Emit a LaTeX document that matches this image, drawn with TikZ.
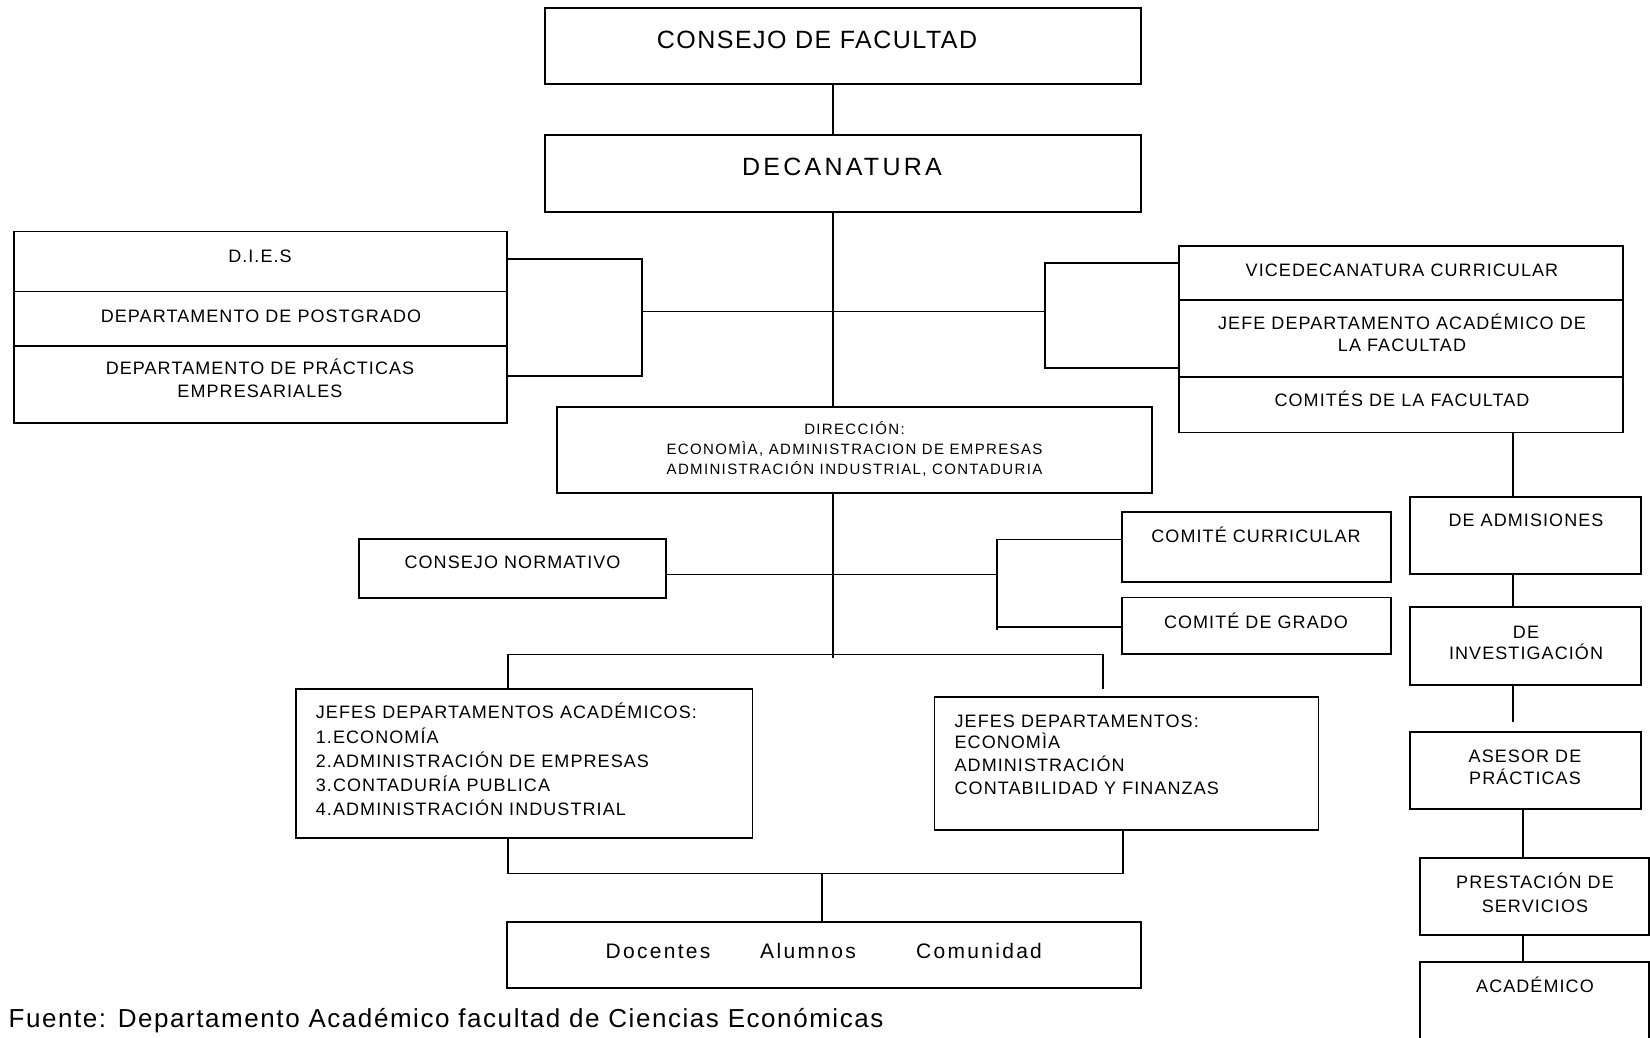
\documentclass[tikz,border=0pt]{standalone}
\usepackage{fontspec}
\setmainfont{Liberation Sans}
\newfontfamily\fsA{Liberation Sans}[LetterSpace=6]
\newfontfamily\fsB{Liberation Sans}[LetterSpace=13]
\newfontfamily\fsD{Liberation Sans}[LetterSpace=9]
\newfontfamily\fsE{Liberation Sans}[LetterSpace=11]
\tikzset{
  box/.style={draw, line width=1.8pt, inner sep=0pt, outer sep=0pt, anchor=north west},
  conn/.style={line width=1.8pt},
  tbig/.style={font=\fsA\fontsize{25}{30}\selectfont, inner sep=0pt, text height=17.9pt, text depth=0pt},
  tdec/.style={font=\fsB\fontsize{25}{30}\selectfont, inner sep=0pt, text height=17.9pt, text depth=0pt},
  tsmall/.style={font=\fsA\fontsize{18}{22}\selectfont, inner sep=0pt, text height=12.9pt, text depth=0pt},
  tdir/.style={font=\fsD\fontsize{15}{18}\selectfont, inner sep=0pt, text height=10.7pt, text depth=0pt},
  tdoc/.style={font=\fsE\fontsize{21}{25}\selectfont, inner sep=0pt, text height=15pt, text depth=0pt},
  tsrc/.style={font=\fsA\fontsize{26}{31}\selectfont, inner sep=0pt, text height=18.6pt, text depth=0pt, anchor=west},
}
\newcommand\bx[5]{\node[box, minimum width={(#4-#2)*1pt}, minimum height={(#5-#3)*1pt}] (#1) at (#2,#3) {};}
\begin{document}
\begin{tikzpicture}[x=1pt,y=-1pt]
\useasboundingbox (0,0) rectangle (1650,1038);
% boxes
\bx{cf}{545}{8}{1141}{84}
\bx{dec}{545}{135}{1141}{212}
\bx{lgA}{14}{231.5}{507}{291.5}
\bx{lgB}{14}{291.5}{507}{346}
\bx{lgC}{14}{346}{507}{423}
\bx{rgA}{1178.6}{246}{1622.6}{300}
\bx{rgB}{1178.6}{300}{1622.6}{376.7}
\bx{rgC}{1178.6}{376.7}{1622.6}{432.5}
\bx{dir}{557}{407}{1152}{493}
\bx{cn}{359}{539}{666}{598}
\bx{cc}{1122}{512}{1391}{582}
\bx{cg}{1122}{597.5}{1391}{654}
\bx{adm}{1410}{497}{1641}{574}
\bx{inv}{1410}{607}{1641}{685}
\bx{ase}{1410}{732}{1641}{809}
\bx{pre}{1420}{858}{1649}{935}
\bx{aca}{1420}{962}{1649}{1060}
\bx{ja}{295.7}{689}{752.4}{837.6}
\bx{jd}{934.4}{696.6}{1318.5}{830.3}
\bx{doc}{507}{922}{1141}{988}
% coordinates
\coordinate (vx) at (833,0);
\coordinate (cx1) at (1513,0);
\coordinate (cx2) at (1523,0);
\coordinate (jl) at (642,311.5);
\coordinate (jr) at (1045,311.5);
\coordinate (vend) at (833,658);
\coordinate (g1) at (1513,722);
\coordinate (g2) at (1103,689);
\coordinate (jn) at (997,574.5);
% connectors
\draw[conn] (cf.south -| vx) -- (dec.north -| vx);
\draw[conn] (dec.south -| vx) -- (dir.north -| vx);
\draw[conn] (dir.south -| vx) -- (vend);
\draw[conn] (lgA.east |- 0,259) -- (642,259) -- (642,376) -- (lgC.east |- 0,376);
\draw[conn] (jl) -- (jr);
\draw[conn] (rgA.west |- 0,263) -- (1045,263) -- (1045,368) -- (rgB.west |- 0,368);
\draw[conn] (rgC.south -| cx1) -- (adm.north -| cx1);
\draw[conn] (adm.south -| cx1) -- (inv.north -| cx1);
\draw[conn] (inv.south -| cx1) -- (g1);
\draw[conn] (ase.south -| cx2) -- (pre.north -| cx2);
\draw[conn] (pre.south -| cx2) -- (aca.north -| cx2);
\draw[conn] (cn.east |- 0,574.5) -- (jn);
\draw[conn] (cc.west |- 0,539.5) -- (997,539.5) -- (997,630);
\draw[conn] (997,627) -- (cg.west |- 0,627);
\draw[conn] (ja.north -| 508,0) -- (508,654.5) -- (1103,654.5) -- (g2);
\draw[conn] (ja.south -| 508,0) -- (508,873.4) -- (1122.8,873.4) -- (jd.south -| 1122.8,0);
\draw[conn] (822,873.4) -- (doc.north -| 822,0);
% texts
\node[tbig] (tcf) at (817,40) {CONSEJO DE FACULTAD};
\node[tdec] (tdec) at (842,167) {DECANATURA};
\node[tsmall] (tlA) at (260,256) {D.I.E.S};
\node[tsmall] (tlB) at (261,316) {DEPARTAMENTO DE POSTGRADO};
\node[tsmall] (tlC1) at (260,368) {DEPARTAMENTO DE PRÁCTICAS};
\node[tsmall] (tlC2) at (260,391.5) {EMPRESARIALES};
\node[tsmall] (trA) at (1402,270.5) {VICEDECANATURA CURRICULAR};
\node[tsmall] (trB1) at (1402,323) {JEFE DEPARTAMENTO ACADÉMICO DE};
\node[tsmall] (trB2) at (1402,345) {LA FACULTAD};
\node[tsmall] (trC) at (1402,400) {COMITÉS DE LA FACULTAD};
\node[tdir] (td1) at (854.5,429) {DIRECCIÓN:};
\node[tdir] (td2) at (854.5,449) {ECONOMÌA, ADMINISTRACION DE EMPRESAS};
\node[tdir] (td3) at (854.5,469) {ADMINISTRACIÓN INDUSTRIAL, CONTADURIA};
\node[tsmall] (tcn) at (512.5,562) {CONSEJO NORMATIVO};
\node[tsmall] (tcc) at (1256,536) {COMITÉ CURRICULAR};
\node[tsmall] (tcg) at (1256,622) {COMITÉ DE GRADO};
\node[tsmall] (tadm) at (1526,520) {DE ADMISIONES};
\node[tsmall] (tinv1) at (1526,632) {DE};
\node[tsmall] (tinv2) at (1526,653) {INVESTIGACIÓN};
\node[tsmall] (tase1) at (1525,756) {ASESOR DE};
\node[tsmall] (tase2) at (1525,778) {PRÁCTICAS};
\node[tsmall] (tpre1) at (1535,882) {PRESTACIÓN DE};
\node[tsmall] (tpre2) at (1535,906) {SERVICIOS};
\node[tsmall] (taca) at (1535,986) {ACADÉMICO};
\node[tsmall, anchor=west] (tja1) at (315.7,712.4) {JEFES DEPARTAMENTOS ACADÉMICOS:};
\node[tsmall, anchor=west] (tja2) at (315.7,736.6) {1.ECONOMÍA};
\node[tsmall, anchor=west] (tja3) at (315.7,760.8) {2.ADMINISTRACIÓN DE EMPRESAS};
\node[tsmall, anchor=west] (tja4) at (315.7,785) {3.CONTADURÍA PUBLICA};
\node[tsmall, anchor=west] (tja5) at (315.7,809.2) {4.ADMINISTRACIÓN INDUSTRIAL};
\node[tsmall, anchor=west] (tjd1) at (954.4,720.8) {JEFES DEPARTAMENTOS:};
\node[tsmall, anchor=west] (tjd2) at (954.4,742) {ECONOMÌA};
\node[tsmall, anchor=west] (tjd3) at (954.4,765) {ADMINISTRACIÓN};
\node[tsmall, anchor=west] (tjd4) at (954.4,788) {CONTABILIDAD Y FINANZAS};
\node[tdoc] (tdo1) at (658,951) {Docentes};
\node[tdoc] (tdo2) at (808,951) {Alumnos};
\node[tdoc] (tdo3) at (979,951) {Comunidad};
\node[tsrc] (tsrc) at (8.4,1018.6) {Fuente: Departamento Académico facultad de Ciencias Económicas};
\end{tikzpicture}
\end{document}
